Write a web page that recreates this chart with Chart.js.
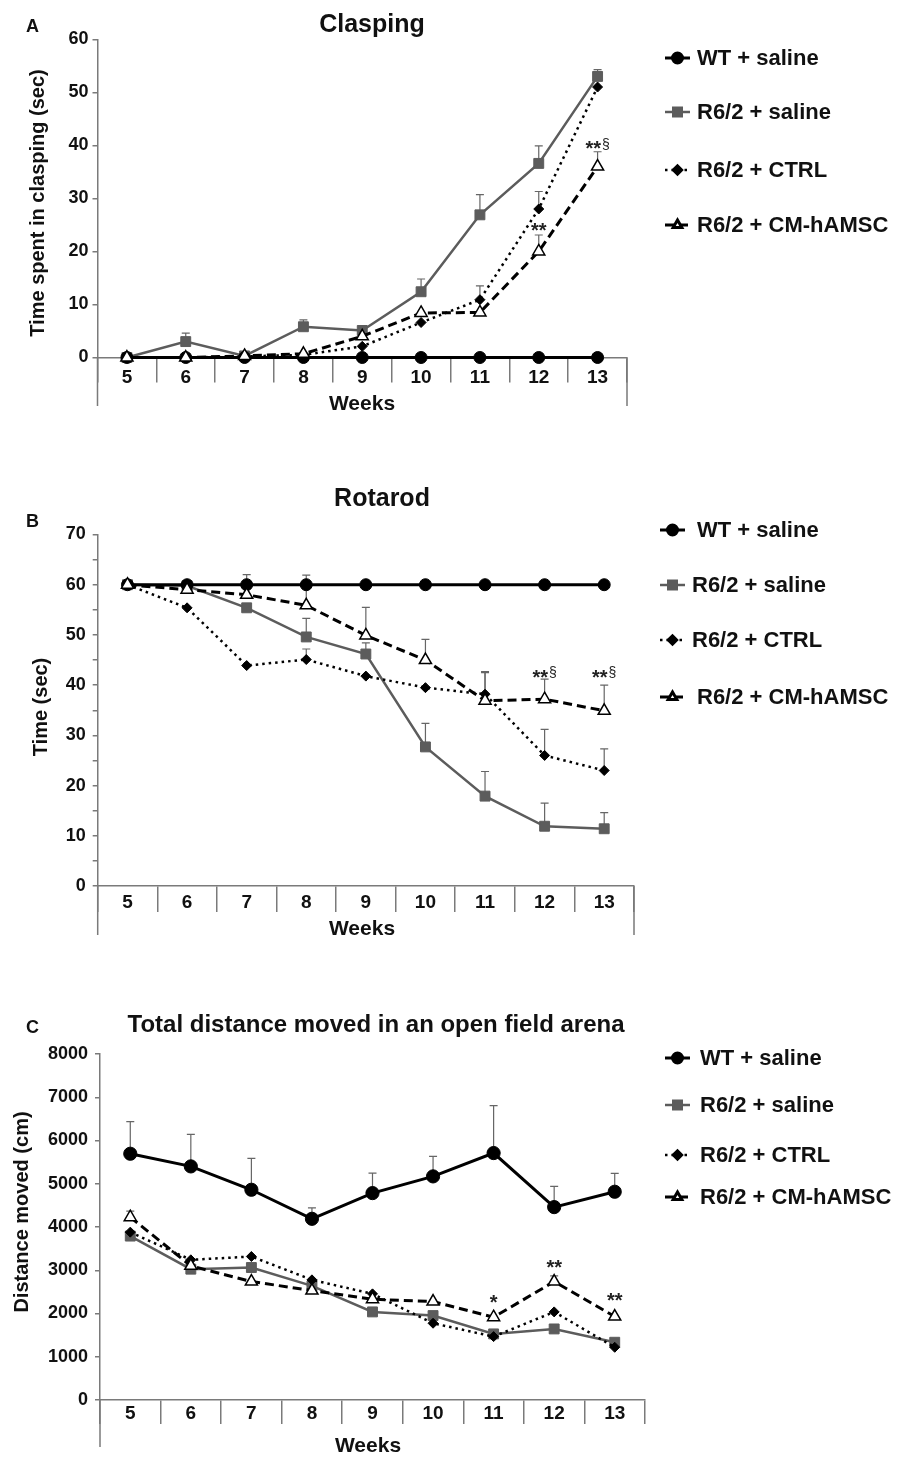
<!DOCTYPE html>
<html><head><meta charset="utf-8">
<script src="https://cdn.jsdelivr.net/npm/chart.js@4.4.1/dist/chart.umd.min.js"></script>
<style>
html,body{margin:0;padding:0;background:#fff;}
#wrap{position:relative;width:898px;height:1458px;overflow:hidden;background:#fff;}
canvas{position:absolute;left:0;}
</style></head><body>
<div id="wrap">
<canvas id="cA" width="898" height="440" style="top:0px"></canvas>
<canvas id="cB" width="898" height="490" style="top:470px"></canvas>
<canvas id="cC" width="898" height="468" style="top:990px"></canvas>
</div>
<script>
// ---------- data ----------
const weeks = ['5','6','7','8','9','10','11','12','13'];
const seriesNames = ['WT + saline','R6/2 + saline','R6/2 + CTRL','R6/2 + CM-hAMSC'];

// A: Clasping (sec)
const claspWT     = [0, 0, 0, 0, 0, 0, 0, 0, 0];
const claspSaline = [0, 3, 0.3, 5.8, 5.1, 12.4, 26.9, 36.6, 53];
const claspCTRL   = [0, 0, 0.2, 0.5, 2.1, 6.6, 10.9, 28, 51];
const claspCM     = [0, 0, 0.3, 0.7, 4, 8.4, 8.5, 20, 36];
const claspWTErr     = [0, 0, 0, 0, 0, 0, 0, 0, 0];
const claspSalineErr = [0, 1.6, 0, 1.3, 0.7, 2.4, 3.8, 3.3, 1.3];
const claspCTRLErr   = [0, 0, 0, 0, 0, 0, 2.6, 3.3, 0];
const claspCMErr     = [0, 0, 0, 0, 0, 0, 0, 3.1, 2.8];
const claspTicks = [0, 10, 20, 30, 40, 50, 60];
const claspMarks = [{t:'**', i:7, v:24.8}, {t:'**§', i:8, v:40.3}];

// B: Rotarod (sec)
const rotWT     = [60, 60, 60, 60, 60, 60, 60, 60, 60];
const rotSaline = [60, 59.8, 55.4, 49.6, 46.2, 27.7, 17.9, 11.9, 11.4];
const rotCTRL   = [60, 55.4, 43.9, 45.1, 41.8, 39.5, 38.2, 26, 23];
const rotCM     = [60, 59, 58, 55.9, 49.9, 45, 36.9, 37.2, 34.9];
const rotWTErr     = [0, 0, 0, 0, 0, 0, 0, 0, 0];
const rotSalineErr = [0, 0, 0, 3.7, 2.2, 4.7, 4.9, 4.6, 3.2];
const rotCTRLErr   = [0, 0, 0, 2.1, 0, 0, 4.3, 5.2, 4.3];
const rotCMErr     = [0, 0, 4.0, 6.0, 5.6, 4.1, 5.8, 4.0, 5.1];
const rotTicks = [0, 10, 20, 30, 40, 50, 60, 70];
const rotMarks = [{t:'**§', i:7, v:42.6}, {t:'**§', i:8, v:42.6}];

// C: Total distance (cm)
const distWT     = [5694, 5401, 4861, 4190, 4784, 5170, 5710, 4460, 4815];
const distSaline = [3790, 3025, 3063, 2640, 2037, 1952, 1528, 1643, 1335];
const distCTRL   = [3881, 3241, 3318, 2778, 2454, 1775, 1466, 2037, 1219];
const distCM     = [4228, 3102, 2739, 2531, 2330, 2276, 1914, 2739, 1929];
const distWTErr     = [741, 741, 725, 254, 463, 463, 1096, 478, 424];
const distSalineErr = [0, 0, 0, 0, 0, 0, 0, 0, 0];
const distCTRLErr   = [0, 0, 0, 0, 0, 0, 0, 0, 0];
const distCMErr     = [140, 0, 0, 0, 0, 0, 0, 130, 0];
const distTicks = [0, 1000, 2000, 3000, 4000, 5000, 6000, 7000, 8000];
const distMarks = [{t:'*', i:6, v:2380}, {t:'**', i:7, v:3190}, {t:'**', i:8, v:2405}];

// ---------- styles ----------
const FF = '"Liberation Sans", Arial, Helvetica, sans-serif';
const AX = '#7a7a7a';
const styles = [
  {color:'#000', width:3,   dash:[],    point:'circle',   r:6, fill:'#000', pc:'#000', pbw:1,   order:2, lr:5},
  {color:'#5c5c5c', width:2.5, dash:[], point:'rect',     r:7, fill:'#5c5c5c', pc:'#5c5c5c', pbw:1, order:3, lr:6},
  {color:'#000', width:2.5, dash:[2.5,4], point:'rectRot', r:5, fill:'#000', pc:'#000', pbw:1, order:1, lr:4.5},
  {color:'#000', width:3,   dash:[9,5], point:'triangle', r:7, fill:'#fff', pc:'#000', pbw:1.5, order:0, lr:5}
];

const decor = {
  cA: {top:0, letter:{t:'A', x:26, y:32}, title:{t:'Clasping', x:372, y:32, s:25},
       yTitle:{t:'Time spent in clasping (sec)', x:38, y:203}, xTitle:{t:'Weeks', x:362, y:404},
       ext:406, rightExt:true,
       legend:{x0:665, x1:690, tx:[697,697,697,697], ys:[58,112,170,225]},
       values:[claspWT, claspSaline, claspCTRL, claspCM],
       errors:[claspWTErr, claspSalineErr, claspCTRLErr, claspCMErr], marks:claspMarks},
  cB: {top:470, letter:{t:'B', x:26, y:527}, title:{t:'Rotarod', x:382, y:506, s:25},
       yTitle:{t:'Time (sec)', x:41, y:707}, xTitle:{t:'Weeks', x:362, y:929},
       ext:935, rightExt:true,
       legend:{x0:660, x1:685, tx:[697,692,692,697], ys:[530,585,640,697]},
       values:[rotWT, rotSaline, rotCTRL, rotCM],
       errors:[rotWTErr, rotSalineErr, rotCTRLErr, rotCMErr], marks:rotMarks},
  cC: {top:990, letter:{t:'C', x:26, y:1033}, title:{t:'Total distance moved in an open field arena', x:376, y:1032, s:24},
       yTitle:{t:'Distance moved (cm)', x:22, y:1212}, xTitle:{t:'Weeks', x:368, y:1446},
       ext:1447, rightExt:false,
       legend:{x0:665, x1:690, tx:[700,700,700,700], ys:[1058,1105,1155,1197]},
       values:[distWT, distSaline, distCTRL, distCM],
       errors:[distWTErr, distSalineErr, distCTRLErr, distCMErr], marks:distMarks}
};

const decorPlugin = {
  id:'decor',
  beforeDatasetsDraw(chart){
    const d = decor[chart.canvas.id]; if(!d) return;
    const ctx = chart.ctx, xs = chart.scales.x, ys = chart.scales.y;
    ctx.save(); ctx.strokeStyle = '#666'; ctx.lineWidth = 1.2; ctx.setLineDash([]);
    d.errors.forEach((errs, k) => {
      const vals = d.values[k];
      errs.forEach((e, j) => {
        if (!e) return;
        const x = xs.getPixelForValue(j);
        const y0 = ys.getPixelForValue(vals[j]);
        const y1 = ys.getPixelForValue(vals[j] + e);
        ctx.beginPath(); ctx.moveTo(x, y0); ctx.lineTo(x, y1);
        ctx.moveTo(x - 4, y1); ctx.lineTo(x + 4, y1); ctx.stroke();
      });
    });
    ctx.restore();
  },
  afterDraw(chart){
    const d = decor[chart.canvas.id]; if(!d) return;
    const ctx = chart.ctx, T = d.top, ca = chart.chartArea;
    const xs = chart.scales.x, ys = chart.scales.y;
    ctx.save();
    // axis extensions
    ctx.strokeStyle = AX; ctx.lineWidth = 1.5; ctx.setLineDash([]);
    ctx.beginPath(); ctx.moveTo(ca.left, ca.bottom); ctx.lineTo(ca.left, d.ext - T);
    if (d.rightExt) { ctx.moveTo(ca.right, ca.bottom); ctx.lineTo(ca.right, d.ext - T); }
    ctx.stroke();
    // texts
    ctx.fillStyle = '#111';
    ctx.textBaseline = 'alphabetic';
    ctx.font = 'bold 18px ' + FF; ctx.textAlign = 'left';
    ctx.fillText(d.letter.t, d.letter.x, d.letter.y - T);
    ctx.font = 'bold ' + d.title.s + 'px ' + FF; ctx.textAlign = 'center';
    ctx.fillText(d.title.t, d.title.x, d.title.y - T);
    ctx.font = 'bold 21px ' + FF; ctx.textBaseline = 'middle';
    ctx.fillText(d.xTitle.t, d.xTitle.x, d.xTitle.y - T);
    ctx.font = 'bold 20px ' + FF;
    ctx.save(); ctx.translate(d.yTitle.x, d.yTitle.y - T); ctx.rotate(-Math.PI/2);
    ctx.fillText(d.yTitle.t, 0, 0); ctx.restore();
    // significance marks
    d.marks.forEach(m => {
      const x = xs.getPixelForValue(m.i), y = ys.getPixelForValue(m.v);
      const stars = m.t.replace('§','');
      const sect = m.t.includes('§');
      ctx.font = 'bold 20px ' + FF;
      const w1 = ctx.measureText(stars).width;
      ctx.font = '14px ' + FF;
      const w2 = sect ? ctx.measureText('§').width + 1 : 0;
      const x0 = x - (w1 + w2) / 2;
      ctx.textAlign = 'left'; ctx.textBaseline = 'alphabetic';
      ctx.font = 'bold 20px ' + FF; ctx.fillStyle = '#222';
      ctx.fillText(stars, x0, y + 11.5);
      if (sect) { ctx.font = '14px ' + FF; ctx.fillText('§', x0 + w1 + 1, y + 5); }
    });
    // legend
    const L = d.legend;
    styles.forEach((s, k) => {
      const y = L.ys[k] - T;
      ctx.save();
      ctx.strokeStyle = s.color; ctx.lineWidth = s.width; ctx.setLineDash(s.dash);
      ctx.beginPath(); ctx.moveTo(L.x0, y); ctx.lineTo(L.x1, y); ctx.stroke();
      ctx.setLineDash([]);
      ctx.fillStyle = s.fill; ctx.strokeStyle = s.pc;
      Chart.helpers.drawPoint(ctx, {pointStyle:s.point, radius:s.lr, rotation:0, borderWidth:s.pbw}, (L.x0 + L.x1)/2, y);
      ctx.restore();
      ctx.font = 'bold 22px ' + FF; ctx.fillStyle = '#111';
      ctx.textAlign = 'left'; ctx.textBaseline = 'middle';
      ctx.fillText(seriesNames[k], L.tx[k], y + 1);
    });
    ctx.restore();
  }
};

function buildDatasets(vals, rScale) {
  return vals.map((v, k) => {
    const s = styles[k];
    return {
      label: seriesNames[k], data: v,
      borderColor: s.color, backgroundColor: s.fill, borderWidth: s.width, borderDash: s.dash,
      pointStyle: s.point, pointRadius: s.r * (k === 0 ? rScale : 1), pointHoverRadius: s.r,
      pointBackgroundColor: s.fill, pointBorderColor: s.pc, pointBorderWidth: s.pbw,
      tension: 0, fill: false, clip: false, order: s.order
    };
  });
}

function makeChart(id, vals, L) {
  const tickFont = {family: FF, size: 18, weight: 'bold'};
  return new Chart(document.getElementById(id), {
    type: 'line',
    data: {labels: weeks, datasets: buildDatasets(vals, L.wtScale || 1)},
    options: {
      responsive: false, animation: false, devicePixelRatio: 1,
      layout: {padding: {top: L.top, left: 0, right: L.right, bottom: 0}},
      plugins: {legend: {display: false}, tooltip: {enabled: false}, title: {display: false}},
      scales: {
        x: {
          type: 'category', offset: true,
          grid: {display: true, offset: true, drawOnChartArea: false, drawTicks: true,
                 tickLength: L.tl, color: AX, lineWidth: 1.5},
          border: {display: true, color: AX, width: 1.5},
          ticks: {padding: L.xpad, color: '#111', font: {family: FF, size: 19, weight: 'bold'},
                  maxRotation: 0, autoSkip: false},
          afterFit: (s) => { s.height = L.xh; }
        },
        y: {
          min: L.min, max: L.max,
          ticks: {stepSize: L.step, padding: L.ypad, color: '#111', font: tickFont,
                  callback: (v) => (L.labels.includes(v) ? String(v) : '')},
          grid: {drawOnChartArea: false, drawTicks: true, tickLength: 5, color: AX, lineWidth: 1.5},
          border: {display: true, color: AX, width: 1.5},
          afterFit: (s) => { s.width = L.yw; }
        }
      }
    },
    plugins: [decorPlugin]
  });
}

makeChart('cA', [claspWT, claspSaline, claspCTRL, claspCM],
  {top: 39.3, right: 898 - 627, yw: 97.5, xh: 440 - 357.5, tl: 25, xpad: -16.4, ypad: 4,
   min: 0, max: 60, step: 10, labels: claspTicks});
makeChart('cB', [rotWT, rotSaline, rotCTRL, rotCM],
  {top: 534.5 - 470, right: 898 - 634, yw: 97.7, xh: 490 - 416, tl: 26, xpad: -20.4, ypad: 7,
   min: 0, max: 70, step: 5, labels: rotTicks});
makeChart('cC', [distWT, distSaline, distCTRL, distCM],
  {top: 1054 - 990, right: 898 - 645, yw: 100, xh: 468 - 410, tl: 24, xpad: -21.4, ypad: 7,
   min: 0, max: 8000, step: 1000, labels: distTicks, wtScale: 1.1});
</script>
</body></html>
